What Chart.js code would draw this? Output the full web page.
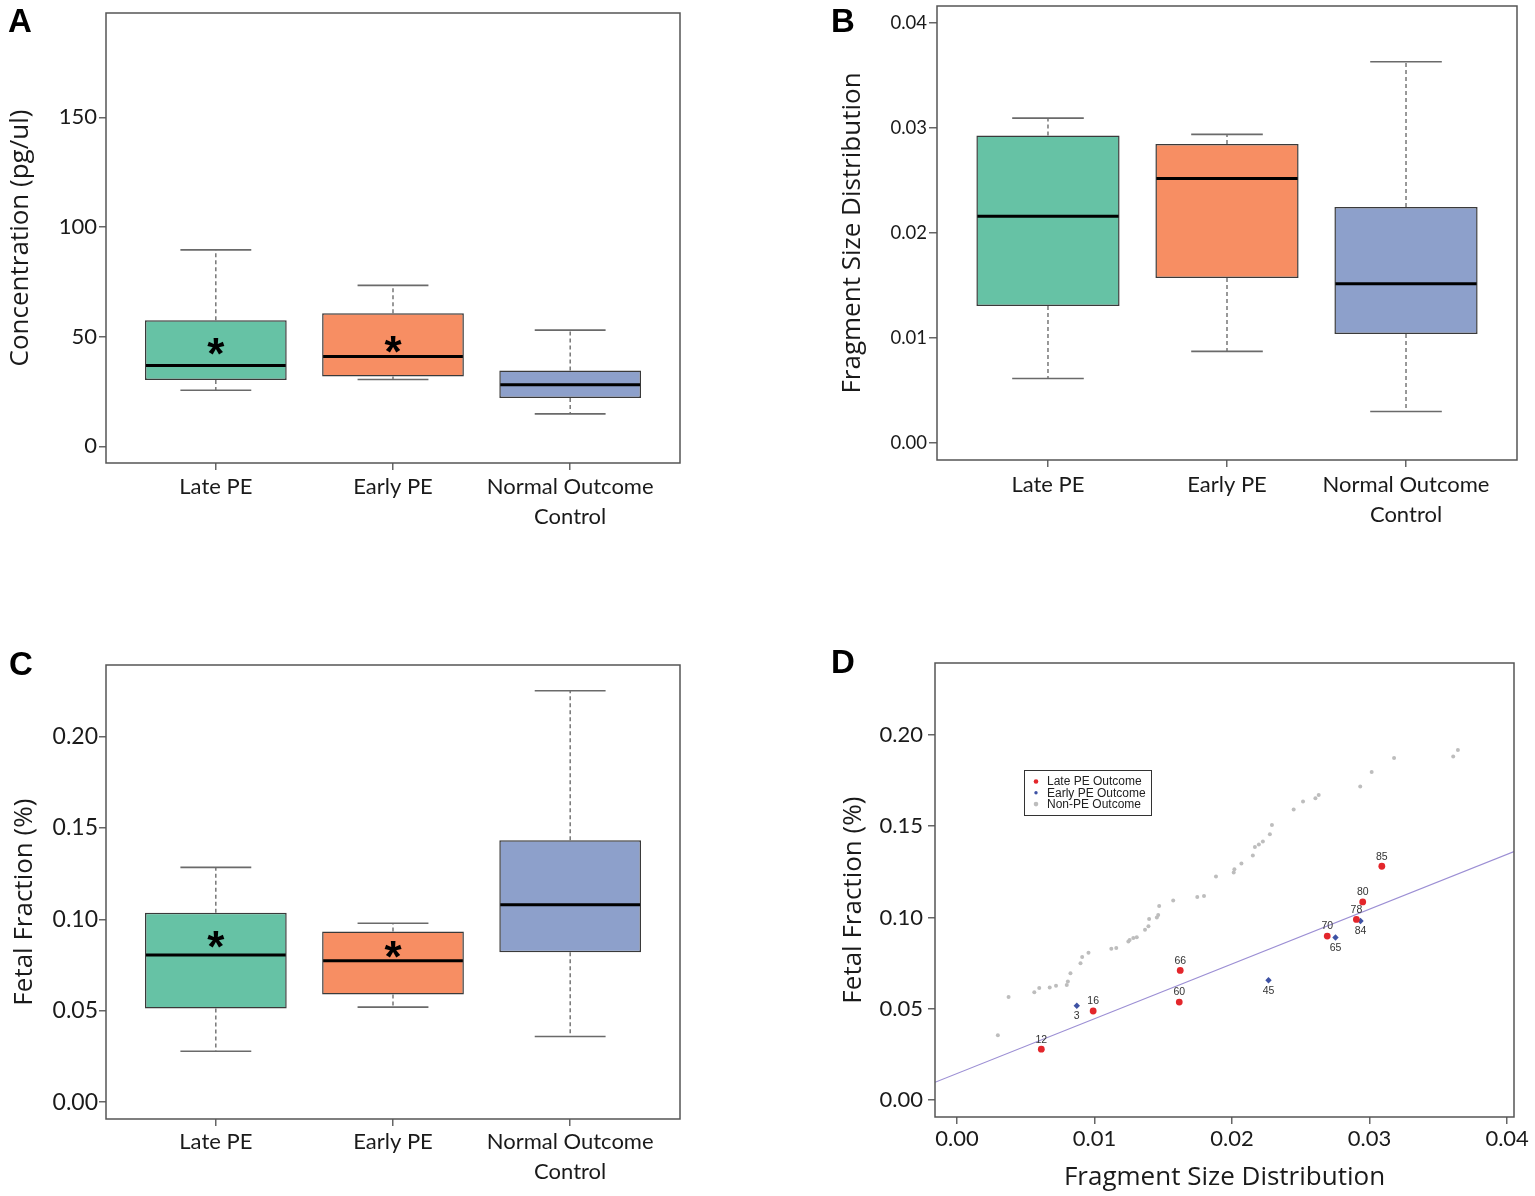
<!DOCTYPE html>
<html>
<head>
<meta charset="utf-8">
<script src="https://cdn.jsdelivr.net/npm/chart.js@4.4.1/dist/chart.umd.min.js"></script>
<style>
  html, body { margin: 0; padding: 0; background: #fff; }
  #page { position: relative; width: 1535px; height: 1196px; overflow: hidden; background: #fff; }
  .panel { position: absolute; }
  .tag { position: absolute; font: bold 33px "Liberation Sans", Arial, sans-serif; line-height: 1; color: #000; }
</style>
</head>
<body>
<div id="page">
  <canvas id="chartA" class="panel" width="760" height="560" style="left:0;top:0;width:760px;height:560px"></canvas>
  <canvas id="chartB" class="panel" width="715" height="560" style="left:820px;top:0;width:715px;height:560px"></canvas>
  <canvas id="chartC" class="panel" width="760" height="556" style="left:0;top:640px;width:760px;height:556px"></canvas>
  <canvas id="chartD" class="panel" width="715" height="556" style="left:820px;top:640px;width:715px;height:556px"></canvas>
  <div class="tag" style="left:8px;top:4px">A</div>
  <div class="tag" style="left:831px;top:4px">B</div>
  <div class="tag" style="left:9px;top:647px">C</div>
  <div class="tag" style="left:831px;top:645px">D</div>
</div>
<script>
// groups shared by the three box plots
const groupLines = [['Late PE'], ['Early PE'], ['Normal Outcome', 'Control']];
const groupPos = [1, 2, 3];
const groupFill = ['#66C2A5', '#F78E63', '#8DA0CB'];

// A - concentration (pg/ul)
const concMin = [25.6, 30.5, 14.8];
const concQ1  = [30.2, 31.8, 22.0];
const concMed = [36.9, 41.0, 28.1];
const concQ3  = [57.5, 60.7, 34.6];
const concMax = [89.6, 73.4, 53.0];
const concStar = [45.9, 46.7, null];
const concTicks = [0, 50, 100, 150];

// B - fragment size distribution
const fragMin = [0.00615, 0.00874, 0.00302];
const fragQ1  = [0.01305, 0.01571, 0.01039];
const fragMed = [0.02159, 0.02518, 0.01518];
const fragQ3  = [0.02928, 0.02846, 0.02248];
const fragMax = [0.03093, 0.02938, 0.03629];
const fragStar = [null, null, null];
const fragTicks = [0, 0.01, 0.02, 0.03, 0.04];

// C - fetal fraction
const ffMin = [0.0279, 0.0520, 0.0359];
const ffQ1  = [0.0513, 0.0589, 0.0821];
const ffMed = [0.0805, 0.0774, 0.1080];
const ffQ3  = [0.1037, 0.0934, 0.1433];
const ffMax = [0.1285, 0.0979, 0.2251];
const ffStar = [0.0893, 0.0840, null];
const ffTicks = [0, 0.05, 0.10, 0.15, 0.20];

// D - fetal fraction vs fragment size
const lateId = [12, 16, 60, 66, 70, 78, 80, 85];
const lateX = [0.00613, 0.00990, 0.01616, 0.01623, 0.02692, 0.02904, 0.02950, 0.03089];
const lateY = [0.0279, 0.0488, 0.0537, 0.0710, 0.0898, 0.0989, 0.1085, 0.1280];
const earlyId = [3, 45, 65, 84];
const earlyX = [0.00871, 0.02265, 0.02752, 0.02934];
const earlyY = [0.0517, 0.0656, 0.0890, 0.0980];
const nonPeX = [0.00297, 0.00375, 0.00562, 0.00598, 0.00674, 0.00720, 0.00798, 0.00806, 0.00825, 0.00898,
  0.00910, 0.00956, 0.01122, 0.01158, 0.01246, 0.01255, 0.01282, 0.01307, 0.01367, 0.01392,
  0.01397, 0.01453, 0.01463, 0.01470, 0.01572, 0.01747, 0.01796, 0.01883, 0.02012, 0.02017,
  0.02068, 0.02151, 0.02166, 0.02195, 0.02224, 0.02275, 0.02290, 0.02448, 0.02516, 0.02606,
  0.02630, 0.02932, 0.03015, 0.03178, 0.03608, 0.03642];
const nonPeY = [0.0355, 0.0564, 0.0590, 0.0614, 0.0617, 0.0626, 0.0630, 0.0650, 0.0695, 0.0749,
  0.0784, 0.0806, 0.0828, 0.0833, 0.0868, 0.0877, 0.0887, 0.0892, 0.0933, 0.0951,
  0.0991, 0.1000, 0.1013, 0.1063, 0.1093, 0.1112, 0.1117, 0.1224, 0.1246, 0.1264,
  0.1295, 0.1339, 0.1385, 0.1399, 0.1416, 0.1455, 0.1505, 0.1590, 0.1634, 0.1652,
  0.1670, 0.1716, 0.1795, 0.1872, 0.1881, 0.1916];
const fitX = [-0.0016, 0.0405];
const fitY = [0.0098, 0.1360];
const legendNames = ['Late PE Outcome', 'Early PE Outcome', 'Non-PE Outcome'];
const legendColors = ['#E3262B', '#3E52A4', '#BDBDBD'];

const INK = '#1a1a1a';
const TITLE_FONT = '"Open Sans", "Noto Sans", sans-serif';
const TICK_FONT = 'Lato, "Open Sans", sans-serif';
// trailing spaces nudge a rotated title down a little, as in the original
const NUDGE = '\u00a0\u00a0\u00a0';

// keep the plot box where it is, whatever the tick label sizes
function fixWidth(w) {
  return sc => { sc.width = w; sc.paddingTop = 0; sc.paddingBottom = 0; };
}
function fixHeight(h) {
  return sc => { sc.height = h; sc.paddingLeft = 0; sc.paddingRight = 0; };
}

// full box round the plot region, like base R graphics
const framePlugin = {
  id: 'frame',
  afterDraw(chart) {
    const { ctx, chartArea: a } = chart;
    ctx.save();
    ctx.strokeStyle = '#555';
    ctx.lineWidth = 1.5;
    ctx.strokeRect(a.left, a.top, a.right - a.left, a.bottom - a.top);
    ctx.restore();
  }
};

function whiskerPlugin(s) {
  return {
    id: 'whiskers',
    afterDatasetsDraw(chart) {
      const { ctx, scales: { x, y } } = chart;
      const bars = chart.getDatasetMeta(0).data;
      ctx.save();
      groupPos.forEach((g, i) => {
        const cx = x.getPixelForValue(g);
        const half = bars[i].width / 2;
        const capL = x.getPixelForValue(g - 0.2);
        const capR = x.getPixelForValue(g + 0.2);

        ctx.setLineDash([4, 3]);
        ctx.strokeStyle = '#555';
        ctx.lineWidth = 1.2;
        ctx.beginPath();
        ctx.moveTo(cx, y.getPixelForValue(s.q3[i]));
        ctx.lineTo(cx, y.getPixelForValue(s.max[i]));
        ctx.moveTo(cx, y.getPixelForValue(s.q1[i]));
        ctx.lineTo(cx, y.getPixelForValue(s.min[i]));
        ctx.stroke();

        ctx.setLineDash([]);
        ctx.strokeStyle = '#6a6a6a';
        ctx.lineWidth = 1.6;
        ctx.beginPath();
        [s.max[i], s.min[i]].forEach(v => {
          const py = y.getPixelForValue(v);
          ctx.moveTo(capL, py);
          ctx.lineTo(capR, py);
        });
        ctx.stroke();

        ctx.strokeStyle = '#000';
        ctx.lineWidth = 3;
        ctx.beginPath();
        const my = y.getPixelForValue(s.med[i]);
        ctx.moveTo(cx - half + 1, my);
        ctx.lineTo(cx + half - 1, my);
        ctx.stroke();

        if (s.star[i] != null) {
          ctx.fillStyle = '#000';
          ctx.font = 'bold 44px "Liberation Sans", Arial, sans-serif';
          ctx.textAlign = 'center';
          ctx.textBaseline = 'alphabetic';
          ctx.fillText('*', cx, y.getPixelForValue(s.star[i]) + 0.52 * 44);
        }
      });
      ctx.restore();
    }
  };
}

function boxChart(id, s) {
  return new Chart(document.getElementById(id), {
    type: 'bar',
    data: {
      datasets: [{
        data: groupPos.map((g, i) => ({ x: g, y: [s.q1[i], s.q3[i]] })),
        backgroundColor: groupFill,
        borderColor: '#3a3a3a',
        borderWidth: 1.5,
        borderSkipped: false,
        categoryPercentage: 1,
        barPercentage: 0.8
      }]
    },
    options: {
      responsive: false,
      animation: false,
      layout: { padding: s.pad },
      plugins: { legend: { display: false }, tooltip: { enabled: false } },
      scales: {
        x: {
          type: 'linear', min: 0.38, max: 3.62, offset: false,
          afterBuildTicks: sc => { sc.ticks = groupPos.map(v => ({ value: v })); },
          afterFit: fixHeight(s.xh),
          border: { display: false },
          grid: { offset: false, drawOnChartArea: false, drawTicks: true, tickLength: 7, color: '#666', lineWidth: 1.5 },
          ticks: {
            autoSkip: false, maxRotation: 0, minRotation: 0, color: INK, padding: s.xpad,
            font: { family: TICK_FONT, size: 22, lineHeight: 1.36 },
            callback: v => groupLines[groupPos.indexOf(v)]
          }
        },
        y: {
          type: 'linear', min: s.range[0], max: s.range[1],
          afterBuildTicks: sc => { sc.ticks = s.ticks.map(v => ({ value: v })); },
          afterFit: fixWidth(s.yw),
          border: { display: false },
          grid: { drawOnChartArea: false, drawTicks: true, tickLength: s.ytl, color: '#666', lineWidth: 1.5 },
          ticks: { color: INK, padding: s.ypad, font: { family: TICK_FONT, size: s.tickSize }, callback: s.fmt },
          title: {
            display: true, text: s.title, color: INK,
            font: { family: TITLE_FONT, size: s.titleSize },
            padding: { top: s.titlePad, bottom: 0 }
          }
        }
      }
    },
    plugins: [whiskerPlugin(s), framePlugin]
  });
}

boxChart('chartA', {
  min: concMin, q1: concQ1, med: concMed, q3: concQ3, max: concMax, star: concStar,
  ticks: concTicks, range: [-7.6, 197.6], fmt: v => String(v),
  title: 'Concentration (pg/ul)', titleSize: 26, titlePad: 5, tickSize: 22,
  pad: { left: 0, top: 13, right: 80, bottom: 0 }, yw: 106, xh: 97, xpad: 2, ypad: 2, ytl: 7
});

boxChart('chartB', {
  min: fragMin, q1: fragQ1, med: fragMed, q3: fragQ3, max: fragMax, star: fragStar,
  ticks: fragTicks, range: [-0.0016, 0.0416], fmt: v => v.toFixed(2),
  title: 'Fragment Size Distribution', titleSize: 26, titlePad: 17, tickSize: 18.5,
  pad: { left: 0, top: 6, right: 18, bottom: 0 }, yw: 117, xh: 100, xpad: 3, ypad: 2, ytl: 8
});

boxChart('chartC', {
  min: ffMin, q1: ffQ1, med: ffMed, q3: ffQ3, max: ffMax, star: ffStar,
  ticks: ffTicks, range: [-0.0092, 0.2392], fmt: v => v.toFixed(2),
  title: 'Fetal Fraction (%)' + NUDGE, titleSize: 26, titlePad: 9, tickSize: 23,
  pad: { left: 0, top: 25, right: 80, bottom: 0 }, yw: 106, xh: 77, xpad: 1, ypad: 1, ytl: 7
});

// D: point labels and the inset legend
const scatterExtras = {
  id: 'scatterExtras',
  afterDatasetsDraw(chart) {
    const { ctx, chartArea: a, scales: { x, y } } = chart;
    ctx.save();
    ctx.font = '10.5px "Liberation Sans", Arial, sans-serif';
    ctx.fillStyle = '#333';
    ctx.textAlign = 'center';
    ctx.textBaseline = 'middle';
    lateId.forEach((id, i) => {
      ctx.fillText(String(id), x.getPixelForValue(lateX[i]), y.getPixelForValue(lateY[i]) - 9.5);
    });
    earlyId.forEach((id, i) => {
      ctx.fillText(String(id), x.getPixelForValue(earlyX[i]), y.getPixelForValue(earlyY[i]) + 10.5);
    });

    const lx = a.left + 89, ly = a.top + 107;
    ctx.fillStyle = '#fff';
    ctx.fillRect(lx, ly, 127, 45);
    ctx.strokeStyle = '#333';
    ctx.lineWidth = 1;
    ctx.strokeRect(lx + 0.5, ly + 0.5, 127, 45);
    ctx.font = '12px "Liberation Sans", Arial, sans-serif';
    ctx.textAlign = 'left';
    legendNames.forEach((name, i) => {
      const ry = ly + 11.5 + i * 11.3;
      ctx.fillStyle = legendColors[i];
      ctx.beginPath();
      ctx.arc(lx + 12, ry, i === 1 ? 1.7 : 2.3, 0, Math.PI * 2);
      ctx.fill();
      ctx.fillStyle = '#222';
      ctx.fillText(name, lx + 23, ry + 0.5);
    });
    ctx.restore();
  }
};

new Chart(document.getElementById('chartD'), {
  type: 'scatter',
  data: {
    datasets: [
      {
        label: 'Late PE Outcome',
        data: lateX.map((v, i) => ({ x: v, y: lateY[i] })),
        pointRadius: 3.4, backgroundColor: '#E3262B', borderWidth: 0
      },
      {
        label: 'Early PE Outcome',
        data: earlyX.map((v, i) => ({ x: v, y: earlyY[i] })),
        pointStyle: 'rectRot', pointRadius: 3.2, backgroundColor: '#3E52A4', borderWidth: 0
      },
      {
        type: 'line', label: 'fit',
        data: fitX.map((v, i) => ({ x: v, y: fitY[i] })),
        borderColor: '#9C8FD4', borderWidth: 1.2, pointRadius: 0, fill: false
      },
      {
        label: 'Non-PE Outcome',
        data: nonPeX.map((v, i) => ({ x: v, y: nonPeY[i] })),
        pointRadius: 2, backgroundColor: '#BDBDBD', borderWidth: 0
      }
    ]
  },
  options: {
    responsive: false,
    animation: false,
    layout: { padding: { left: 0, top: 23, right: 21, bottom: 0 } },
    plugins: { legend: { display: false }, tooltip: { enabled: false } },
    scales: {
      x: {
        type: 'linear', min: -0.0016, max: 0.0405,
        afterBuildTicks: sc => { sc.ticks = fragTicks.map(v => ({ value: v })); },
        afterFit: fixHeight(79),
        border: { display: false },
        grid: { drawOnChartArea: false, drawTicks: true, tickLength: 7, color: '#666', lineWidth: 1.5 },
        ticks: { color: INK, padding: 2, maxRotation: 0, autoSkip: false, font: { family: TICK_FONT, size: 22 }, callback: v => v.toFixed(2) },
        title: {
          display: true, text: 'Fragment Size Distribution', color: INK,
          font: { family: TITLE_FONT, size: 26 }, padding: { top: 0, bottom: 3 }
        }
      },
      y: {
        type: 'linear', min: -0.0092, max: 0.2392,
        afterBuildTicks: sc => { sc.ticks = ffTicks.map(v => ({ value: v })); },
        afterFit: fixWidth(115),
        border: { display: false },
        grid: { drawOnChartArea: false, drawTicks: true, tickLength: 7, color: '#666', lineWidth: 1.5 },
        ticks: { color: INK, padding: 5, font: { family: TICK_FONT, size: 22 }, callback: v => v.toFixed(2) },
        title: {
          display: true, text: 'Fetal Fraction (%)' + NUDGE, color: INK,
          font: { family: TITLE_FONT, size: 26 }, padding: { top: 18, bottom: 0 }
        }
      }
    }
  },
  plugins: [scatterExtras, framePlugin]
});
</script>
</body>
</html>
